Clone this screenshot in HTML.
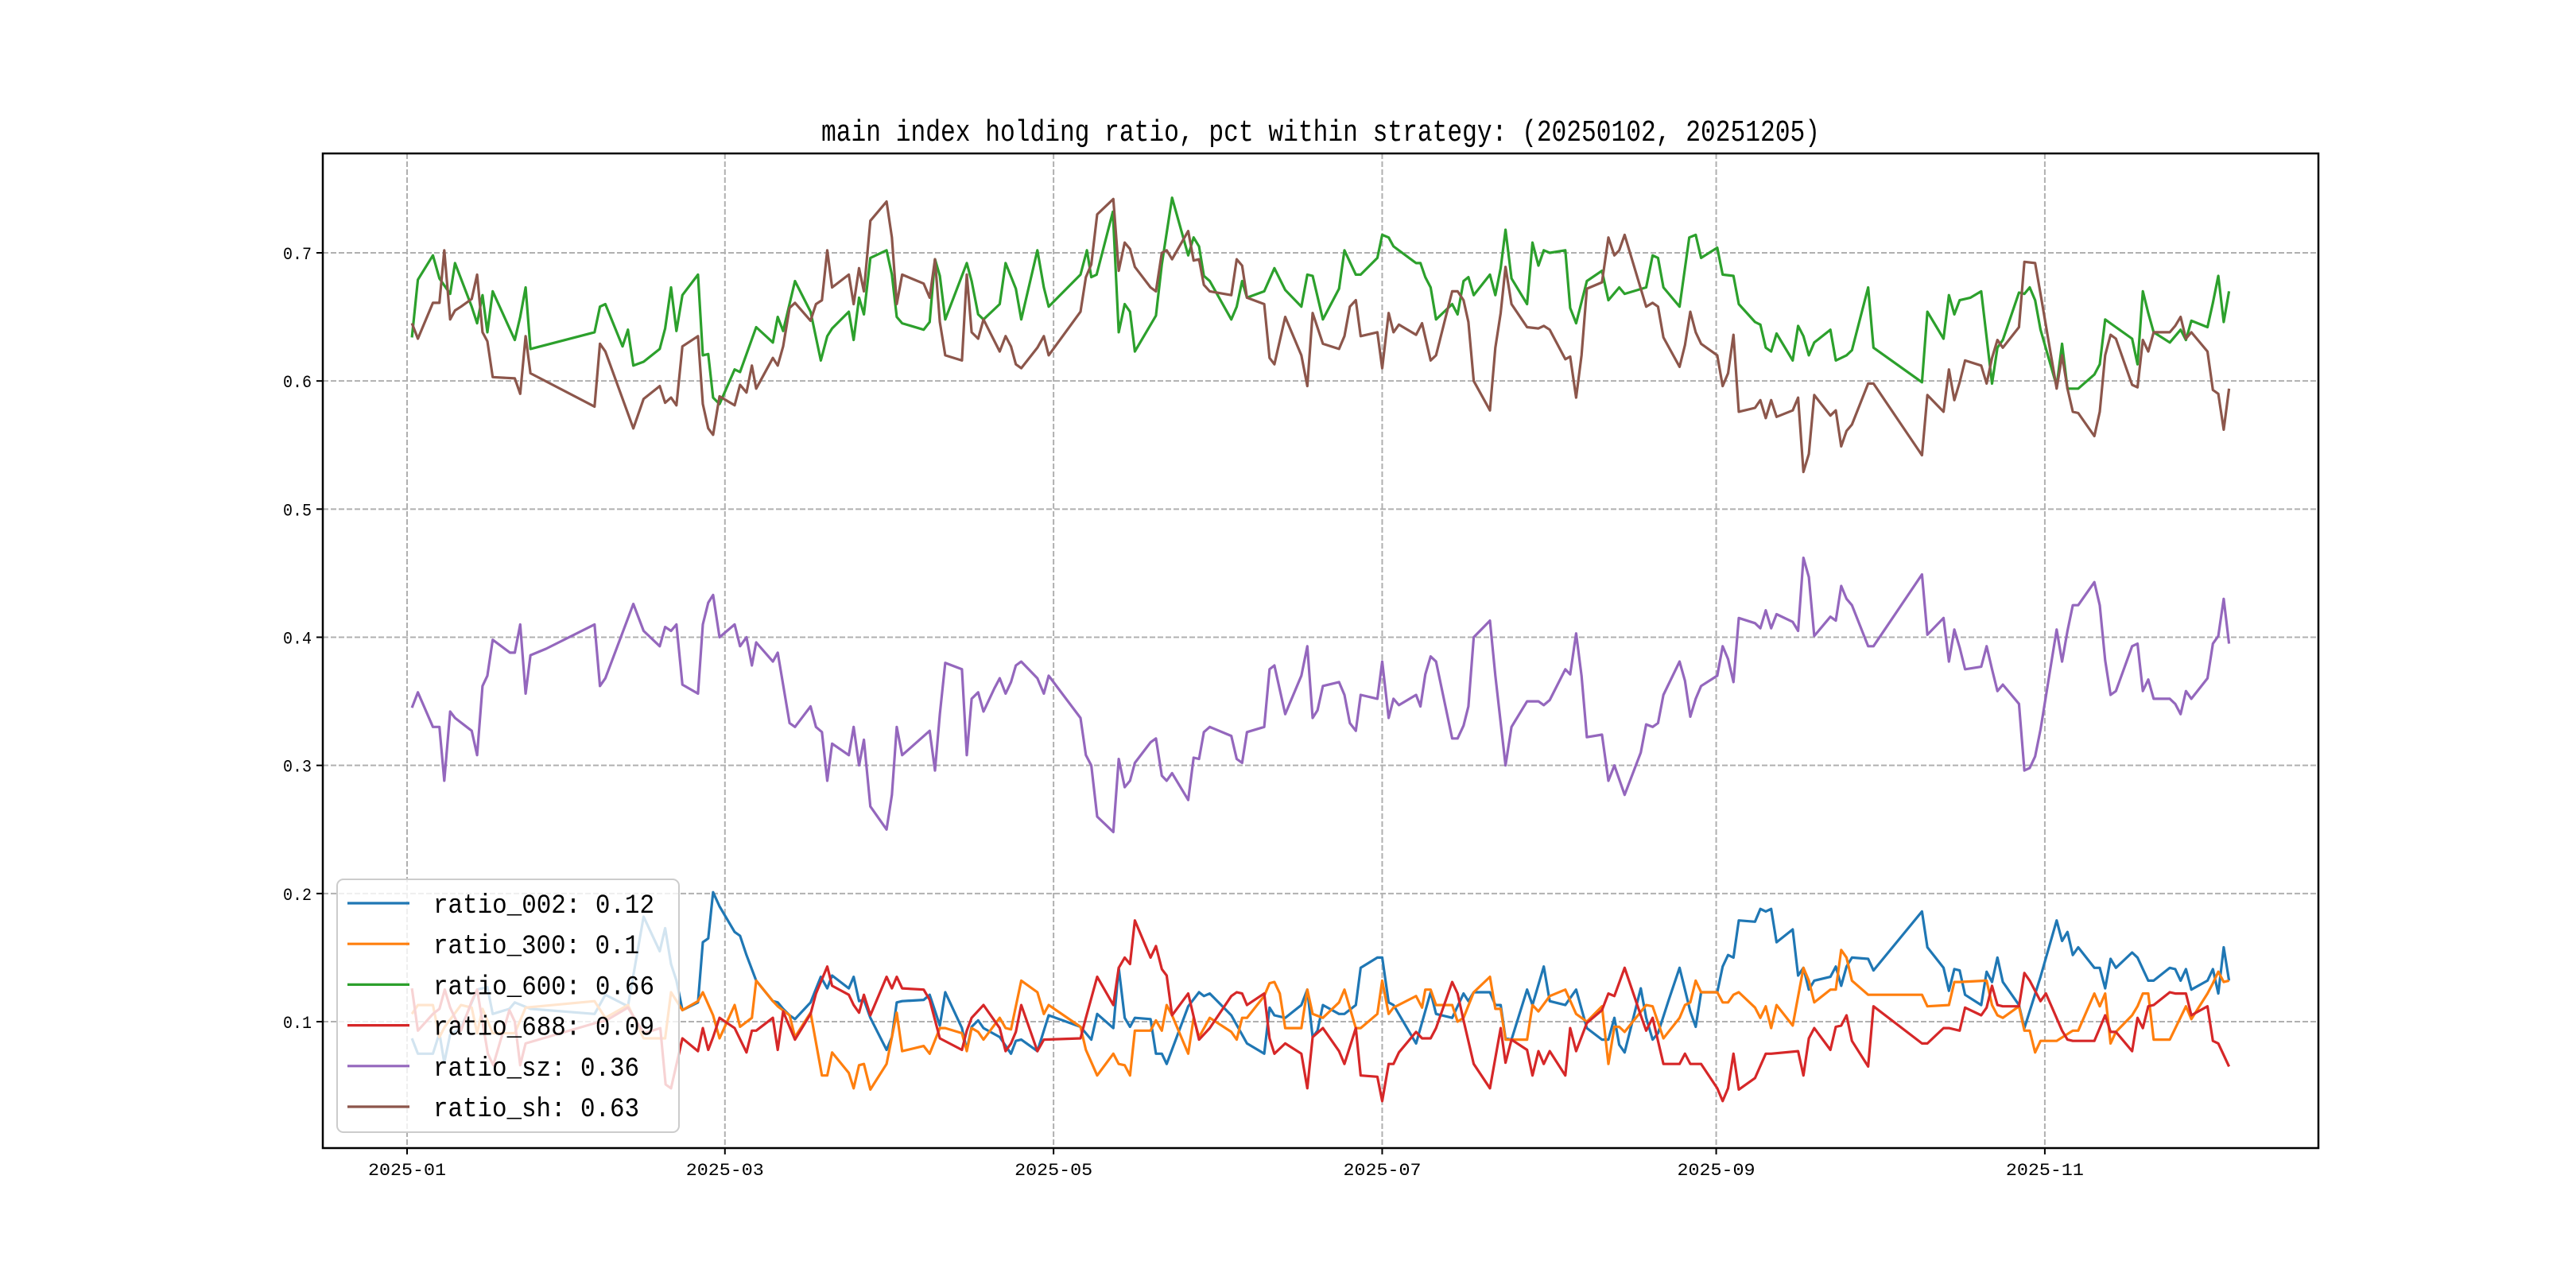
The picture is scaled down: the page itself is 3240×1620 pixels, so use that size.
<!DOCTYPE html>
<html><head><meta charset="utf-8">
<style>
html,body{margin:0;padding:0;background:#fff;}
svg{display:block;}
</style></head>
<body>
<svg id="chart" width="3240" height="1620" viewBox="0 0 3240 1620" xmlns="http://www.w3.org/2000/svg">
<rect x="0" y="0" width="3240" height="1620" fill="#fff"/>
<text x="1661" y="177" text-anchor="middle" font-family="Liberation Mono, DejaVu Sans Mono, monospace" font-size="38" textLength="1256" lengthAdjust="spacingAndGlyphs" fill="#000">main index holding ratio, pct within strategy: (20250102, 20251205)</text>
<g id="grid"></g>
<g id="series"></g>
<g id="axes"></g>
<g id="legend"></g>
</svg>
<script>
// ---- data (day offset from 2025-01-01, values) ----
const xTickLabels = ["2025-01","2025-03","2025-05","2025-07","2025-09","2025-11"];
const xTickDays = [0,59,120,181,243,304];
const yTickLabels = ["0.1","0.2","0.3","0.4","0.5","0.6","0.7"];
const yTickValues = [0.1,0.2,0.3,0.4,0.5,0.6,0.7];
const seriesNames = ["ratio_002: 0.12","ratio_300: 0.1","ratio_600: 0.66","ratio_688: 0.09","ratio_sz: 0.36","ratio_sh: 0.63"];

const d600 = [0.9,2,4.8,6,8,8.9,12,13,14,14.9,15.9,20,21,22,22.9,34.8,35.8,36.8,40,41,42,43.9,46.9,47.9,49,50,51.1,54,54.9,55.9,56.8,58,60.8,61.8,64.8,67.9,68.8,69.8,72,74.9,76.8,78,78.9,82,82.9,83.9,84.8,86,89,90,90.9,91.9,95.9,97,98,98.9,99.9,103.9,104.8,106,107,110,111.1,113,114,117,118.2,119.1,125,126.2,127,128,131,132.1,133.2,134.2,135.1,139,140.1,142,145,146,147,147.9,149,153,154,155,155.9,159.1,161,163,166,167.1,168.1,170,173,174,176.1,177,180.1,181,182.2,183.1,187.3,188.1,189,190,191,194,195,196.1,197,198,201,202,203,203.9,205,207.9,208.9,210,211,212.1,215,215.9,217,219,221.8,223,225,226,230,231.2,232.2,233.2,236.2,238,239.2,240.2,243.2,244.2,246.2,247.2,250.2,251.2,252.2,253.2,254.2,257.2,258.2,259.2,260.2,261.2,264.2,265.2,266.2,267.2,268.2,271.2,272.2,281.2,282.2,285.2,286.2,287.2,288.2,290.2,292.2,294.2,295.2,296.2,299.2,300.2,301.2,302.2,303.2,306.2,307.2,308.2,310.2,313.2,314.2,315.2,317.2,320.2,321.2,322.2,323.2,324.2,327.2,329.2,330.2,331.2,334.2,335.2,336.2,337.2,338.2];
const v600 = [.634,.679,.698,.680,.668,.692,.658,.645,.667,.638,.670,.632,.650,.673,.625,.638,.658,.660,.627,.640,.612,.615,.625,.641,.673,.639,.667,.683,.620,.621,.587,.582,.609,.607,.642,.630,.650,.639,.678,.654,.616,.635,.641,.654,.632,.665,.652,.696,.702,.683,.650,.645,.640,.646,.695,.682,.648,.692,.678,.652,.648,.660,.692,.672,.648,.702,.673,.658,.683,.702,.681,.683,.732,.638,.660,.654,.623,.651,.691,.743,.698,.712,.705,.682,.678,.648,.658,.678,.665,.670,.688,.671,.658,.683,.682,.648,.672,.702,.683,.683,.696,.714,.712,.705,.692,.692,.681,.673,.648,.660,.652,.678,.681,.667,.683,.667,.688,.718,.680,.660,.708,.690,.702,.700,.702,.657,.645,.678,.686,.663,.673,.668,.673,.698,.696,.673,.658,.712,.714,.696,.704,.683,.682,.660,.646,.644,.626,.623,.637,.616,.643,.635,.620,.630,.640,.616,.618,.620,.624,.673,.626,.599,.654,.633,.667,.652,.663,.665,.670,.598,.626,.632,.669,.668,.673,.663,.640,.596,.629,.594,.594,.605,.613,.648,.642,.633,.613,.670,.653,.638,.630,.640,.632,.647,.642,.661,.682,.646,.670];

const dSh = [0.9,2,4.8,6,6.9,8,8.9,10,12,13,14,14.9,15.9,20,21,22,22.9,34.8,35.8,36.8,42,43.9,46.9,47.9,49,50,51.1,54,54.9,55.9,56.8,58,60.8,61.8,63,64,64.8,67.9,68.8,69.8,71,72,74.9,75.9,77,78,78.9,82,82.9,83.9,84.8,86,89,90,90.9,91.9,95.9,97,98,98.9,99.9,103,103.9,104.8,106,107,110,111.1,112.1,113,114,117,118.2,119.1,125,126,127,128.1,131.1,132.1,133.2,134.2,135.1,138,139,140.1,141,142,145,146,147,147.9,149,153,154,155,155.9,159.1,160.1,161,163,166,167.1,168.1,170,173,174,175,176.1,177,180.1,181,182.2,183.1,184.1,187.3,188.4,190,191,194,195,196.1,197,198,201,202,203,203.9,205,207.9,210,211,212.1,215,215.9,217,218,219,221.8,223,224.1,225,226,230,231.2,232.2,233.2,236.2,237.2,238.2,239.2,240.2,243.2,244.2,245.2,246.2,247.2,250.2,251.2,252.2,253.2,254.2,257.2,258.2,259.2,260.2,261.2,264.2,265.2,266.2,267.2,268.2,271.2,272.2,281.2,282.2,285.2,286.2,287.2,288.2,289.2,292.2,293.2,294.2,295.2,296.2,299.2,300.2,302.2,303.2,306.2,307.2,308.2,309.2,310.2,313.2,314.2,315.2,316.2,317.2,320.2,321.2,322.2,323.2,324.2,327.2,328.2,329.2,330.2,331.2,334.2,335.2,336.2,337.2,338.2];
const vSh = [.645,.633,.661,.661,.702,.648,.655,.658,.664,.683,.638,.631,.603,.602,.590,.635,.606,.580,.629,.623,.563,.586,.596,.583,.587,.581,.627,.635,.582,.563,.558,.588,.581,.597,.591,.612,.594,.618,.612,.627,.657,.661,.647,.660,.663,.702,.673,.683,.660,.688,.670,.725,.740,.712,.660,.683,.676,.665,.695,.646,.620,.616,.683,.638,.633,.648,.623,.635,.627,.613,.610,.626,.635,.620,.654,.681,.691,.730,.742,.686,.708,.703,.689,.673,.670,.700,.702,.695,.717,.694,.695,.675,.670,.667,.695,.690,.665,.660,.618,.613,.650,.620,.596,.653,.629,.625,.635,.658,.663,.635,.638,.610,.653,.638,.644,.636,.645,.616,.620,.670,.670,.663,.646,.600,.577,.626,.653,.689,.660,.642,.641,.643,.640,.617,.619,.587,.620,.672,.677,.712,.698,.702,.714,.658,.661,.658,.634,.611,.628,.654,.638,.629,.620,.596,.606,.636,.576,.579,.585,.571,.585,.572,.577,.587,.529,.543,.589,.573,.577,.549,.561,.566,.598,.598,.542,.589,.576,.609,.585,.599,.616,.612,.598,.618,.632,.626,.642,.693,.692,.668,.594,.620,.594,.576,.575,.557,.576,.620,.636,.633,.597,.595,.632,.623,.638,.638,.643,.650,.633,.638,.623,.593,.590,.562,.594];

const dSz = [0.9,2,4.8,6,6.9,8,8.9,12,13,14,14.9,15.9,19.1,20,21,22,22.9,25.8,34.8,35.8,36.8,42,43.9,46.9,47.9,49,50,51.1,54,54.9,55.9,56.8,58,60.8,61.8,63,64,64.8,67.9,68.8,71,72,74.9,75.9,77,78,78.9,82,82.9,83.9,84.8,86,89,90,90.9,91.9,97,98,98.9,99.9,103,103.9,104.8,106,107,109,110,111.1,112.1,113,114,117,118.2,119.1,125,126,127,128.1,131.1,132.1,133.2,134.2,135.1,138,139,140.1,141,142,145,146,147,147.9,149,153,154,155,155.9,159.1,160.1,161,163,166,167.1,168.1,169,170,173,174,175,176.1,177,180.1,181,182.2,183.1,184.1,187.3,188.1,189,190,191,194,195,196.1,197,198,201,202,203.9,205,207.9,210,211,212.1,215,215.9,217,218,219,221.8,223,224.1,226,229,230,231.2,232.2,233.2,236.2,237.2,238.2,239.2,240.2,243.2,244.2,245.2,246.2,247.2,250.2,251.2,252.2,253.2,254.2,257.2,258.2,259.2,260.2,261.2,264.2,265.2,266.2,267.2,268.2,271.2,272.2,281.2,282.2,285.2,286.2,287.2,288.2,289.2,292.2,293.2,294.2,295.2,296.2,299.2,300.2,301.2,302.2,303.2,306.2,307.2,308.2,309.2,310.2,313.2,314.2,315.2,316.2,317.2,320.2,321.2,322.2,323.2,324.2,327.2,328.2,329.2,330.2,331.2,334.2,335.2,336.2,337.2,338.2];
const vSz = [.345,.357,.330,.330,.288,.342,.337,.327,.308,.362,.370,.398,.388,.388,.410,.356,.386,.391,.410,.362,.368,.426,.405,.393,.408,.405,.410,.363,.356,.410,.427,.433,.400,.410,.393,.400,.378,.396,.381,.388,.333,.330,.346,.330,.326,.288,.317,.308,.330,.300,.320,.268,.250,.277,.330,.308,.327,.296,.340,.380,.375,.308,.352,.357,.342,.360,.368,.356,.365,.378,.381,.368,.356,.370,.337,.308,.300,.260,.248,.305,.283,.288,.302,.318,.321,.292,.288,.294,.273,.306,.305,.326,.330,.323,.305,.302,.326,.330,.375,.378,.340,.370,.393,.337,.343,.362,.365,.355,.333,.327,.355,.352,.381,.337,.352,.347,.355,.346,.371,.385,.381,.321,.321,.331,.346,.400,.413,.370,.300,.330,.350,.350,.347,.351,.375,.371,.403,.370,.322,.324,.288,.300,.277,.310,.332,.330,.333,.355,.381,.366,.338,.352,.362,.370,.393,.383,.365,.415,.411,.407,.421,.407,.418,.412,.405,.462,.447,.401,.416,.413,.440,.430,.425,.393,.393,.449,.402,.415,.381,.406,.392,.375,.377,.393,.375,.358,.363,.348,.296,.298,.307,.328,.406,.381,.405,.425,.425,.443,.425,.382,.355,.358,.393,.395,.358,.367,.352,.352,.348,.340,.358,.352,.368,.395,.401,.430,.395];

const d002 = [0.9,2,4.8,6,6.9,8,10,13,14.9,15.9,19,20,22.9,34.8,36.8,41,43.9,46.9,47.9,49,50,51.1,54,54.9,55.9,56.8,58,60.8,61.8,63,64.8,67.9,68.8,69.8,71,72,74.9,76.8,78,78.9,82,82.9,83.9,84.8,86,89,90,90.9,91.9,95.9,97,98.9,99.9,103,103.9,104.8,106,107,110,112.1,113,114,117,119.1,125,127,128.1,131.1,132.1,133.2,134.2,135.1,138,139,140.1,141,145,147,147.9,149,153,155.9,159.1,160.1,161,163,166,167.1,168.1,169,170,173,174,176.1,177,180.1,181,182.2,183.1,187.3,190,191,194,196.1,197,198,201,202,203,203.9,205,207.9,208.9,211,212.1,215,217,219,221.8,223,224.1,225,226,229,230,231.2,232.2,234.2,236.2,238.2,239.2,240.2,243.2,244.2,245.2,246.2,247.2,250.2,251.2,252.2,253.2,254.2,257.2,258.2,259.2,260.2,261.2,264.2,265.2,266.2,267.2,268.2,271.2,272.2,281.2,282.2,285.2,286.2,287.2,288.2,289.2,292.2,293.2,294.2,295.2,296.2,299.2,300.2,303.2,306.2,307.2,308.2,309.2,310.2,313.2,314.2,315.2,316.2,317.2,320.2,321.2,323.2,324.2,327.2,328.2,329.2,330.2,331.2,334.2,335.2,336.2,337.2,338.2];
const v002 = [.087,.075,.075,.091,.068,.090,.095,.125,.127,.106,.110,.115,.110,.106,.121,.112,.182,.155,.173,.145,.132,.109,.115,.162,.165,.201,.190,.170,.167,.152,.132,.116,.115,.110,.105,.102,.115,.135,.126,.136,.126,.135,.116,.117,.103,.078,.088,.115,.116,.117,.121,.097,.123,.095,.078,.096,.101,.095,.088,.075,.085,.086,.077,.105,.096,.086,.106,.095,.142,.103,.096,.103,.102,.075,.075,.067,.112,.123,.120,.122,.105,.083,.075,.111,.105,.103,.113,.125,.088,.093,.113,.106,.106,.113,.142,.150,.150,.115,.113,.083,.123,.106,.103,.122,.116,.123,.123,.113,.113,.087,.086,.125,.113,.143,.116,.113,.125,.095,.086,.086,.103,.082,.076,.126,.103,.086,.091,.117,.142,.108,.096,.123,.123,.143,.152,.150,.179,.178,.188,.186,.188,.162,.172,.136,.142,.125,.132,.135,.143,.128,.143,.150,.149,.140,.186,.158,.142,.124,.141,.140,.121,.113,.139,.131,.150,.131,.113,.095,.135,.179,.163,.170,.152,.158,.142,.142,.126,.149,.142,.154,.150,.132,.132,.142,.141,.132,.141,.125,.132,.141,.122,.158,.132];

const d300 = [0.9,2,4.8,6,7,10,12,13,14,15.9,20,22,34.8,36.8,41,43.9,46.9,47.9,49,51.1,54,54.9,56.8,58,60.8,61.8,64,64.8,67.9,68.8,71,72,74.9,77,78,78.9,82,82.9,83.9,84.8,86,89,90.9,91.9,95.9,97,98.9,99.9,103,103.9,104.8,106,107,110,111.1,112.1,114,117,118.2,119.1,125,126,128.1,131.1,132.1,133.2,134.2,135.1,138,139,140.1,141,142,145,146,147,149,153,154,155,155.9,159.1,160.1,161,162,163,166,167.1,168.1,170,173,174,176.1,177,180.1,181,182.2,183.1,187.3,188.4,189,190,191,194,195,196.1,198,201,202,203,203.9,207.9,208.9,210,212.1,215,217,219,221.8,223,224.1,225,226,230,231.2,233.2,236.2,237.2,238.2,239.2,240.2,243.2,244.2,245.2,246.2,247.2,250.2,251.2,252.2,253.2,254.2,257.2,259.2,260.2,261.2,264.2,265.2,266.2,267.2,268.2,271.2,272.2,281.2,282.2,286.2,287.2,288.2,293.2,294.2,295.2,296.2,299.2,300.2,301.2,302.2,303.2,306.2,309.2,310.2,313.2,314.2,315.2,316.2,317.2,320.2,321.2,322.2,323.2,324.2,327.2,330.2,331.2,334.2,335.2,336.2,337.2,338.2];
const v300 = [.106,.113,.113,.088,.096,.113,.111,.091,.110,.091,.091,.111,.116,.103,.113,.087,.087,.087,.123,.109,.116,.123,.105,.087,.113,.096,.103,.132,.116,.112,.105,.088,.107,.058,.058,.076,.060,.048,.066,.067,.047,.067,.107,.077,.081,.075,.095,.095,.091,.077,.095,.092,.086,.103,.095,.094,.132,.123,.106,.113,.096,.078,.058,.075,.067,.066,.058,.093,.093,.101,.093,.113,.105,.075,.103,.088,.103,.092,.086,.103,.103,.120,.130,.131,.122,.095,.095,.125,.106,.103,.115,.125,.095,.095,.106,.132,.106,.111,.120,.111,.125,.125,.113,.113,.100,.103,.123,.135,.110,.110,.086,.086,.113,.108,.120,.125,.106,.100,.112,.067,.096,.096,.092,.113,.112,.087,.103,.113,.115,.132,.123,.123,.115,.115,.121,.123,.111,.103,.112,.095,.113,.097,.142,.132,.115,.125,.125,.156,.150,.132,.121,.121,.121,.112,.113,.131,.131,.132,.113,.105,.103,.112,.093,.093,.076,.085,.085,.093,.093,.122,.112,.122,.083,.092,.105,.112,.122,.122,.086,.086,.112,.102,.122,.130,.139,.131,.132];

const d688 = [0.9,2,4.8,6,7,8,10,12,13,15,16,19,20,21,22,35,37,41,44,47,48,49,51.1,54,54.9,55.9,56.8,58,60.8,63,64,64.8,67.9,68.8,69.8,72,74.9,75.9,78,78.9,82,82.9,83.9,84.8,86,89,90,90.9,91.9,95.9,97,98.9,103,103.9,104.8,107,110,111.1,112.1,113,114,117,118.2,125,126,128.1,131.1,132.1,133.2,134.2,135.1,138,139,140.1,141,142,145,147,149,153,154,155,155.9,159.1,160.1,161,163,166,167.1,168.1,170,173,174,176.1,177,180.1,181,182.2,183.1,184.1,187.3,188.4,190,191,194,195,196.1,198,201,203,203.9,205,207.9,208.9,210,211,212.1,215,215.9,217,219,221.8,223,224.1,226,229,230,231.2,233.2,236.2,237.2,238.2,240.2,243.2,244.2,245.2,246.2,247.2,250.2,252.2,253.2,258.2,259.2,260.2,261.2,264.2,265.2,266.2,267.2,268.2,271.2,272.2,281.2,282.2,285.2,286.2,288.2,289.2,292.2,293.2,294.2,295.2,296.2,299.2,300.2,301.2,303.2,304.2,307.2,308.2,309.2,313.2,315.2,316.2,317.2,320.2,321.2,322.2,323.2,324.2,327.2,328.2,330.2,331.2,334.2,335.2,336.2,338.2];
const v688 = [.126,.093,.106,.110,.125,.111,.093,.116,.125,.075,.066,.109,.100,.066,.083,.099,.101,.111,.091,.095,.051,.048,.087,.077,.095,.078,.088,.103,.095,.076,.093,.093,.103,.078,.108,.086,.106,.122,.143,.128,.121,.113,.107,.121,.105,.135,.126,.135,.126,.125,.117,.087,.078,.093,.103,.113,.095,.077,.083,.092,.113,.077,.086,.087,.103,.135,.113,.142,.150,.145,.179,.150,.159,.141,.136,.105,.122,.086,.095,.120,.123,.122,.113,.122,.087,.075,.083,.075,.048,.088,.095,.077,.067,.095,.058,.057,.038,.067,.067,.076,.092,.087,.087,.095,.131,.122,.101,.067,.048,.095,.068,.086,.078,.058,.077,.067,.077,.058,.095,.077,.099,.109,.122,.120,.142,.105,.093,.103,.067,.067,.075,.067,.067,.048,.038,.048,.075,.047,.056,.075,.075,.077,.058,.087,.095,.078,.096,.097,.105,.085,.065,.112,.083,.083,.095,.095,.093,.111,.105,.111,.128,.113,.112,.112,.138,.132,.116,.122,.093,.086,.085,.085,.105,.092,.092,.077,.103,.095,.112,.113,.123,.122,.122,.105,.112,.085,.083,.065];

// ---- scales ----
const PL=406, PR=2916, PT=193, PB=1444;
const X0=512, PXD=6.776;
function xs(d){return X0 + PXD*d;}
function ys(v){return 318 + (0.7 - v)*1611.7;}
const NS='http://www.w3.org/2000/svg';
function mk(tag, attrs, parent){const e=document.createElementNS(NS,tag);for(const k in attrs)e.setAttribute(k,attrs[k]);parent.appendChild(e);return e;}

const grid=document.getElementById('grid');
const axes=document.getElementById('axes');
const sg=document.getElementById('series');
const lg=document.getElementById('legend');

xTickDays.forEach((d,i)=>{
  const x=xs(d);
  const gl=mk('line',{x1:x,y1:PT,x2:x,y2:PB,stroke:'#b0b0b0','stroke-width':2,'stroke-dasharray':'7,3'},grid);
  
  
  const tk=mk('line',{x1:x,y1:PB,x2:x,y2:PB+8,stroke:'#000','stroke-width':2},axes);
  
  
  const t=mk('text',{x:x,y:PB+34,'text-anchor':'middle','font-family':'Liberation Mono, DejaVu Sans Mono, monospace','font-size':22,textLength:98,lengthAdjust:'spacingAndGlyphs',fill:'#000'},axes);
  t.textContent=xTickLabels[i];
  
  
});
yTickValues.forEach((v,i)=>{
  const y=ys(v);
  const gl=mk('line',{x1:PL,y1:y,x2:PR,y2:y,stroke:'#b0b0b0','stroke-width':2,'stroke-dasharray':'7,3'},grid);
  
  
  const tk=mk('line',{x1:PL-8,y1:y,x2:PL,y2:y,stroke:'#000','stroke-width':2},axes);
  
  
  const t=mk('text',{x:PL-14,y:y+8,'text-anchor':'end','font-family':'Liberation Mono, DejaVu Sans Mono, monospace','font-size':22,textLength:36,lengthAdjust:'spacingAndGlyphs',fill:'#000'},axes);
  t.textContent=yTickLabels[i];
  
  
});
const frame=mk('rect',{x:PL,y:PT,width:PR-PL,height:PB-PT,fill:'none',stroke:'#000','stroke-width':2.5},axes);



const colors=['#1f77b4','#ff7f0e','#2ca02c','#d62728','#9467bd','#8c564b'];
const allDays=[d002,d300,d600,d688,dSz,dSh];
const allVals=[v002,v300,v600,v688,vSz,vSh];
const lineNames=['line-ratio-002','line-ratio-300','line-ratio-600','line-ratio-688','line-ratio-sz','line-ratio-sh'];
allDays.forEach((ds,k)=>{
  const vs=allVals[k];
  const n=Math.min(ds.length,vs.length);
  let p='';
  for(let i=0;i<n;i++){p+=(i?'L':'M')+xs(ds[i]).toFixed(1)+','+ys(vs[i]).toFixed(1);}
  const path=mk('path',{d:p,fill:'none',stroke:colors[k],'stroke-width':3.2,'stroke-linejoin':'round'},sg);
  
  
});

const box=mk('rect',{x:424,y:1106,width:430,height:318,rx:8,ry:8,fill:'#fff','fill-opacity':0.8,stroke:'#cccccc','stroke-width':2},lg);


seriesNames.forEach((nm,k)=>{
  const y=1136+k*51.2;
  const l=mk('line',{x1:437,y1:y,x2:515,y2:y,stroke:colors[k],'stroke-width':3.2},lg);
  
  
  const t=mk('text',{x:545,y:y+12,'font-family':'Liberation Mono, DejaVu Sans Mono, monospace','font-size':34,textLength:(nm.length*18.5).toFixed(0),lengthAdjust:'spacingAndGlyphs',fill:'#000'},lg);
  t.textContent=nm;
  
  
});
</script>
</body></html>
